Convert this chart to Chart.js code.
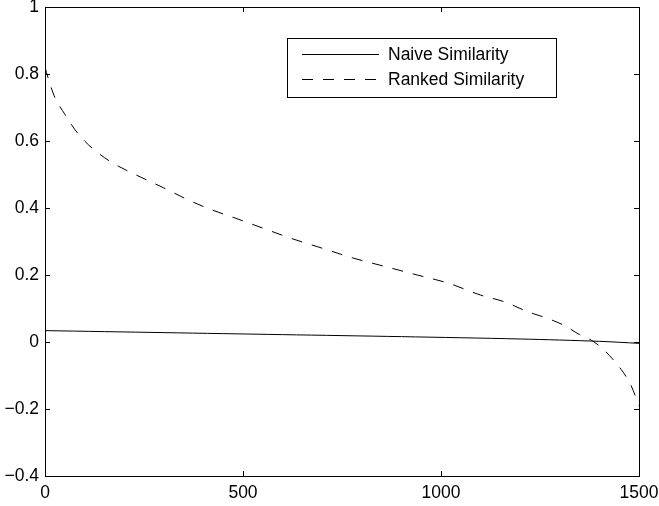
<!DOCTYPE html>
<html>
<head>
<meta charset="utf-8">
<script src="https://cdn.jsdelivr.net/npm/chart.js@4/dist/chart.umd.min.js"></script>
<style>
  html, body { margin: 0; padding: 0; background: #fff; }
  #wrap { width: 659px; height: 506px; }
</style>
</head>
<body>
<div id="wrap"><canvas id="chart" width="659" height="506"></canvas></div>
<script>
// values
const seriesNames = ['Naive Similarity', 'Ranked Similarity'];

const naiveX = [0, 300, 600, 900, 1200, 1400, 1500];
const naiveY = [0.034, 0.028, 0.022, 0.016, 0.009, 0.002, -0.004];

const rankedX = [0, 10, 25, 50, 75, 100, 130, 170, 210, 260, 300, 360, 420, 480, 550, 620,
                 700, 780, 860, 940, 1020, 1100, 1160, 1220, 1270, 1310, 1350, 1380, 1410,
                 1440, 1460, 1480, 1500];
const rankedY = [0.82, 0.78, 0.73, 0.68, 0.635, 0.60, 0.568, 0.535, 0.51, 0.482, 0.46, 0.425,
                 0.395, 0.37, 0.34, 0.31, 0.28, 0.25, 0.225, 0.2, 0.175, 0.14, 0.12, 0.09,
                 0.07, 0.05, 0.022, 0.005, -0.022, -0.06, -0.09, -0.13, -0.19];

const xTicks = [0, 500, 1000, 1500];
const yTicks = [-0.4, -0.2, 0, 0.2, 0.4, 0.6, 0.8, 1];

const FONT = '"Liberation Sans", Arial, sans-serif';
const DASH = [11, 10];
const toPoints = (xs, ys) => xs.map((x, i) => ({ x: x, y: ys[i] }));
const fmt = v => String(Math.round(v * 10) / 10).replace('-', '\u2212');

// MATLAB style box with inward ticks on all four sides
const boxPlugin = {
    id: 'box',
    afterDraw(chart) {
        const { ctx, chartArea: a, scales } = chart;
        const len = 5;
        ctx.save();
        ctx.strokeStyle = '#000';
        ctx.lineWidth = 1;
        ctx.strokeRect(a.left + 0.5, a.top + 0.5, a.right - a.left, a.bottom - a.top);
        ctx.beginPath();
        xTicks.forEach(v => {
            const px = Math.round(scales.x.getPixelForValue(v)) + 0.5;
            ctx.moveTo(px, a.bottom); ctx.lineTo(px, a.bottom - len);
            ctx.moveTo(px, a.top); ctx.lineTo(px, a.top + len);
        });
        yTicks.forEach(v => {
            const py = Math.round(scales.y.getPixelForValue(v)) + 0.5;
            ctx.moveTo(a.left, py); ctx.lineTo(a.left + len, py);
            ctx.moveTo(a.right, py); ctx.lineTo(a.right - len, py);
        });
        ctx.stroke();
        ctx.restore();
    }
};

// legend box inside the plot, top right
const legendPlugin = {
    id: 'boxLegend',
    afterDraw(chart) {
        const { ctx } = chart;
        const left = 287, top = 38, w = 269, h = 59;
        ctx.save();
        ctx.fillStyle = '#fff';
        ctx.fillRect(left, top, w, h);
        ctx.strokeStyle = '#000';
        ctx.lineWidth = 1;
        ctx.strokeRect(left + 0.5, top + 0.5, w, h);
        ctx.font = '17.5px ' + FONT;
        ctx.textBaseline = 'middle';
        ctx.fillStyle = '#000';
        chart.data.datasets.forEach((ds, i) => {
            const y = top + 16.5 + i * 25;
            ctx.beginPath();
            ctx.setLineDash(ds.borderDash || []);
            ctx.moveTo(302, y); ctx.lineTo(379, y);
            ctx.stroke();
            ctx.setLineDash([]);
            ctx.fillText(ds.label, 388, y + 1);
        });
        ctx.restore();
    }
};

new Chart(document.getElementById('chart').getContext('2d'), {
    type: 'line',
    data: {
        datasets: [
            {
                label: seriesNames[0],
                data: toPoints(naiveX, naiveY),
                borderColor: '#000',
                borderWidth: 1,
                pointRadius: 0,
                tension: 0.3
            },
            {
                label: seriesNames[1],
                data: toPoints(rankedX, rankedY),
                borderColor: '#000',
                borderWidth: 1,
                borderDash: DASH,
                pointRadius: 0,
                cubicInterpolationMode: 'monotone'
            }
        ]
    },
    options: {
        responsive: false,
        animation: false,
        layout: { padding: { top: 7, right: 20, left: 0, bottom: 0 } },
        plugins: { legend: { display: false }, tooltip: { enabled: false } },
        scales: {
            x: {
                type: 'linear',
                min: 0, max: 1500,
                grid: { display: false, drawTicks: false },
                border: { display: false },
                afterBuildTicks: s => { s.ticks = xTicks.map(v => ({ value: v })); },
                afterFit: s => { s.height = 30; s.paddingLeft = 0; s.paddingRight = 0; },
                ticks: {
                    color: '#000',
                    padding: 7,
                    maxRotation: 0,
                    font: { family: FONT, size: 17.5 },
                    callback: v => String(v)
                }
            },
            y: {
                min: -0.4, max: 1,
                grid: { display: false, drawTicks: false },
                border: { display: false },
                afterBuildTicks: s => { s.ticks = yTicks.map(v => ({ value: v })); },
                afterFit: s => { s.width = 45; s.paddingTop = 0; s.paddingBottom = 0; },
                ticks: {
                    color: '#000',
                    padding: 6,
                    font: { family: FONT, size: 17.5 },
                    callback: v => fmt(v)
                }
            }
        }
    },
    plugins: [boxPlugin, legendPlugin]
});
</script>
</body>
</html>
